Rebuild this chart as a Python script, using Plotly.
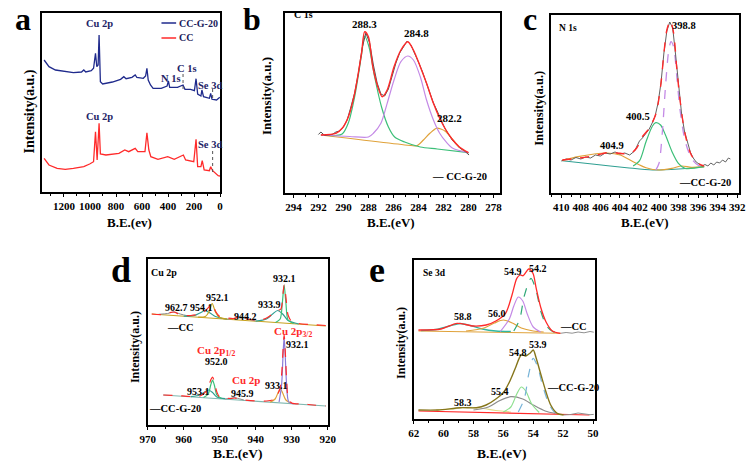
import plotly.graph_objects as go

W, H = 756, 461
FONT = "Liberation Serif"

# ---------------- Panel a : survey spectra ----------------
a_be_ccg = [1352.5, 1315, 1265, 1190, 1127.5, 1065, 1047.5, 1032.5, 990, 972.5, 957.5, 947.5, 937.5, 930, 920,
            902.5, 827.5, 765, 740, 722.5, 677.5, 652.5, 640, 590, 572.5, 562.5, 552.5, 535, 515, 452.5, 407.5,
            397.5, 387.5, 327.5, 295, 285, 270, 227.5, 197.5, 185, 172.5, 147.5, 140, 127.5, 82.5, 72.5, 62.5,
            27.5, 2.5]
a_int_ccg = [132, 125.3, 122, 120.3, 119.3, 120, 122, 120, 121.3, 123.7, 138.7, 125.3, 127, 157, 110.3,
             108, 110, 112.7, 115.3, 113.3, 114.7, 117, 114.7, 113.7, 116, 123.7, 112, 107, 103.7, 103.7, 106,
             111, 104.7, 104.7, 106, 107, 102.7, 102.7, 101.3, 113.3, 98, 96, 102, 95.3, 93.7, 98.7, 92.7,
             92, 94.7]
a_be_cc = [1352.5, 1315, 1252.5, 1190, 1127.5, 1047.5, 1002.5, 972.5, 957.5, 945, 930, 920, 877.5, 777.5,
           732.5, 702.5, 652.5, 632.5, 577.5, 562.5, 547.5, 532.5, 477.5, 402.5, 352.5, 295, 282.5, 265,
           202.5, 185, 172.5, 147.5, 137.5, 122.5, 82.5, 72.5, 57.5, 15, 0]
a_int_cc = [33.7, 27, 23.7, 22.7, 23.7, 25.3, 28, 30.3, 60.3, 32, 68.7, 38, 37, 38.7, 42, 40.3, 43.7, 40.3,
            40.3, 59.3, 42, 35.3, 32.7, 35.3, 32.7, 36, 37, 32, 30.3, 52.7, 25.3, 25.3, 31.3, 22, 21.3, 25.3,
            21.3, 16.3, 16]

# ---------------- Panel b : C 1s ----------------
b_fit_be = [291.8, 290.6, 290.1, 289.6, 289.1, 288.55, 288.3, 288.0, 287.65, 287.25, 286.9, 286.5, 285.95,
            285.4, 284.85, 284.4, 283.85, 283.35, 282.8, 282.3, 281.8, 281.25, 280.75, 280.0]
b_fit = [58, 59.7, 64.7, 76.3, 99.7, 139.7, 161.3, 156.3, 126.3, 106.3, 96.3, 103, 126.3, 143, 151.3, 143,
         126.3, 109.7, 89.7, 74.7, 63, 53, 46.3, 40.3]
b_data_be = [292.0, 291.8, 291.5, 291.2, 290.9, 290.6, 290.3, 290.0, 289.7, 289.4, 289.1, 288.8, 288.5, 288.2,
             287.9, 287.6, 287.3, 287.0, 286.7, 286.4, 286.1, 285.8, 285.5, 285.2, 284.9, 284.6, 284.3, 284.0,
             283.7, 283.4, 283.1, 282.8, 282.5, 282.2, 281.9, 281.6, 281.3, 281.0, 280.7, 280.4, 280.1, 279.95]
b_data = [58.5, 61, 57.5, 58, 58.5, 61, 62, 66, 73, 86, 100, 120, 145, 160, 150, 128, 110, 99, 97, 104, 118,
          130, 140, 146, 152, 148, 140, 131, 122, 111, 100, 90, 82, 74, 65, 59, 53, 49, 45, 43, 40, 38]
b_green_be = [291.8, 290.6, 290.1, 289.6, 289.1, 288.55, 288.3, 287.95, 287.5, 286.95, 286.4, 285.9, 285.1,
              283.85, 282.5, 280.0]
b_green = [58, 57.5, 59, 70.3, 96.3, 138, 157, 146, 116, 86, 66, 56, 51, 46, 44, 40.3]
b_violet_be = [291.8, 289.5, 288.0, 287.6, 287.0, 286.5, 285.95, 285.4, 284.85, 284.4, 283.85, 283.35, 282.8,
               282.3, 281.8, 281.25, 280.0]
b_violet = [58, 56.5, 56, 59.7, 69.7, 89.7, 113, 131.3, 137, 133, 116.3, 93, 73, 59.7, 51.3, 44.7, 40.3]
b_orange_be = [291.8, 284.6, 284.13, 283.6, 283.08, 282.57, 282.2, 281.8, 281.4, 281.0, 280.48, 280.0]
b_orange = [58, 47.5, 47.2, 53, 59.7, 64.7, 64, 61.3, 55.7, 49.7, 43, 40]

# ---------------- Panel c : N 1s ----------------
c_fit_be = [409.9, 408.3, 406.6, 405.3, 404.0, 403.0, 402.3, 401.7, 401.0, 400.3, 399.8, 399.5, 399.2, 398.85,
            398.5, 398.2, 397.85, 397.35, 396.7, 396.0, 395.4]
c_fit = [33, 34.7, 37.3, 40.3, 39.7, 39, 44.7, 56.3, 64.7, 79.7, 109.7, 139.7, 163, 172.3, 159.7, 126.3, 93,
         59.7, 38, 29.7, 27]
c_data_be = [410.0, 409.5, 409.0, 408.5, 408.0, 407.5, 407.0, 406.5, 406.0, 405.5, 405.0, 404.5, 404.0, 403.5,
             403.0, 402.5, 402.2, 402.0, 401.7, 401.4, 401.0, 400.7, 400.4, 400.1, 399.8, 399.5, 399.2, 398.9,
             398.6, 398.3, 398.0, 397.7, 397.4, 397.1, 396.8, 396.5, 396.2, 395.9, 395.6, 395.3, 395.0, 394.7,
             394.4, 394.1, 393.8, 393.5, 393.2, 392.9, 392.7]
c_data = [32, 34, 33, 35.5, 34, 36, 35, 38, 37, 40, 39, 41, 39, 40, 38, 42, 48, 52, 55, 59, 64, 70, 77, 90,
          110, 140, 162, 171, 165, 138, 108, 80, 62, 50, 41, 35, 31, 29, 27, 28.5, 27, 30, 28, 31, 30, 33, 31,
          35, 34]
c_base_be = [409.9, 406.6, 403.3, 400.67, 398.0, 395.4]
c_base = [32.3, 28.7, 25.3, 23, 24, 26.3]
c_orange_be = [409.94, 408.28, 406.63, 405.3, 403.97, 402.65, 401.33, 400.0, 398.67, 397.68, 396.69, 395.37]
c_orange = [32.3, 36.3, 39, 40, 38, 31.3, 25.3, 23, 24.7, 27, 25.7, 26.3]
c_green_be = [402.65, 401.99, 401.33, 400.67, 400.33, 399.84, 399.34, 398.67, 398.02, 397.35, 395.37]
c_green = [27, 32.3, 51.3, 67, 70.3, 68, 58, 41.3, 29.7, 24.7, 26.3]
c_violet_be = [400.33, 400.0, 399.67, 399.34, 399.0, 398.77, 398.51, 398.18, 397.85, 397.35, 396.69, 396.03,
               395.37]
c_violet = [23, 29.7, 59.7, 106.3, 143, 151.3, 146.3, 116.3, 83, 53, 34.7, 28, 26.3]

# ---------------- Panel d : Cu 2p ----------------
d_cc_fit_be = [968.9, 966, 962.7, 961, 958, 955.5, 954.1, 953, 952.1, 951.2, 950, 948, 946, 944.2, 942.5, 940,
               938, 936.5, 935, 933.9, 933, 932.5, 932.1, 931.6, 931, 930, 928, 925, 920.5]
d_cc_fit = [111, 110.5, 113, 110, 109.5, 111, 114, 118, 121.5, 114, 108.5, 107, 106.5, 109, 106, 105, 105.5,
            108, 112, 114.5, 116, 128, 140, 128, 110, 103.5, 101.5, 100.5, 99.5]
d_cc_base_be = [968.9, 920.5]
d_cc_base = [111, 99]
d_cc_t954_be = [960, 957, 955.5, 954.1, 952.7, 951.2, 948]
d_cc_t954 = [108.8, 109.5, 112, 114.3, 112, 108.5, 105.8]
d_cc_g952_be = [956, 954, 953, 952.1, 951.2, 950.2, 948]
d_cc_g952 = [107.8, 108.5, 113, 121.5, 113, 108, 105.8]
d_cc_s963_be = [967, 964.5, 962.7, 961, 958.5]
d_cc_s963 = [110.7, 111.5, 113, 111, 108.8]
d_cc_s944_be = [948, 945.5, 944.2, 942.8, 940]
d_cc_s944 = [105.8, 107, 108.5, 106.5, 104]
d_cc_t934_be = [940, 937, 935.3, 933.9, 932.5, 931, 928]
d_cc_t934 = [103.8, 106, 111, 114.5, 111, 104.5, 101]
d_cc_g932_be = [934.5, 933.2, 932.6, 932.1, 931.6, 931, 929.5]
d_cc_g932 = [102.5, 106, 122, 140, 122, 105, 101.5]

d_g20_fit_be = [965.7, 962, 958, 955.5, 954, 953, 952.5, 952.0, 951.4, 950.8, 950, 947, 945.9, 944, 940, 937,
                935, 934, 933.3, 932.8, 932.4, 932.1, 931.8, 931.4, 931, 930, 927, 924, 920.5]
d_g20_fit = [30, 29.5, 28.5, 29, 33, 40, 45, 48, 42, 33, 28, 26.5, 27, 25.5, 24, 24, 25.5, 30, 36, 50, 75, 90,
             75, 45, 28, 22, 21, 20, 19]
d_g20_base_be = [965.7, 920.5]
d_g20_base = [30, 19]
d_g20_t953_be = [958, 955.5, 954.2, 953.1, 952, 950.8, 948.5]
d_g20_t953 = [28.3, 30, 33, 35, 32.5, 28, 26.3]
d_g20_g952_be = [954.5, 953.2, 952.5, 952.0, 951.5, 950.8, 949.5]
d_g20_g952 = [27.5, 31, 40, 45, 40, 30, 26.5]
d_g20_o933_be = [936, 934.6, 933.7, 933.1, 932.5, 931.6, 930]
d_g20_o933 = [22.8, 26, 33, 36, 32, 25, 21.5]
d_g20_v932_be = [933.5, 932.8, 932.4, 932.1, 931.8, 931.4, 930.8, 929.5]
d_g20_v932 = [23, 40, 70, 88, 70, 40, 23, 21.2]
d_g20_s946_be = [948.5, 946.8, 945.9, 945, 943.3]
d_g20_s946 = [26, 26.8, 27.3, 26.6, 25]

# ---------------- Panel e : Se 3d ----------------
e_cc_fit_be = [61.68, 60.17, 59.09, 58.0, 57.15, 56.5, 55.85, 55.42, 55.1, 54.88, 54.67, 54.3, 54.02, 53.8,
               53.48, 53.15, 52.72, 52.18]
e_cc_fit = [89, 90, 95.7, 93, 94, 98, 105.7, 124, 140.7, 144, 143.3, 150, 145.7, 130.7, 110.7, 97.3, 88, 85.7]
e_cc_tail_be = [52.18, 51.8, 51.4, 51.0, 50.6, 50.2, 49.95]
e_cc_tail = [85.7, 86.5, 85.8, 87, 86.2, 87.5, 86.8]
e_cc_base_be = [61.68, 52.18]
e_cc_base = [88, 85.7]
e_cc_t588_be = [61.5, 60.5, 59.6, 58.9, 58.2, 57.4, 56.5, 55.5]
e_cc_t588 = [88.5, 89.5, 93, 95.5, 93.5, 90, 88, 87.5]
e_cc_o560_be = [58.5, 57.3, 56.6, 56.0, 55.4, 54.8, 54.0, 53.3]
e_cc_o560 = [88, 91, 96, 99, 96, 91, 88, 87]
e_cc_v549_be = [56.2, 55.6, 55.3, 55.0, 54.7, 54.4, 54.0, 53.5]
e_cc_v549 = [87.5, 100, 113, 122, 118, 105, 92, 87]
e_cc_g542_be = [55.3, 54.9, 54.6, 54.15, 53.8, 53.5, 53.1, 52.7, 52.2]
e_cc_g542 = [88, 100, 123, 140.7, 128, 108, 93, 87.5, 86]

e_g20_fit_be = [61.68, 60.38, 58.87, 57.8, 57.15, 56.5, 55.96, 55.53, 55.2, 54.8, 54.5, 54.2, 54.0, 53.8,
                53.48, 53.15, 52.83, 52.4, 51.97]
e_g20_fit = [9, 9, 11.3, 11.3, 14, 20, 27.3, 39, 50.7, 64, 63, 66, 69, 60.7, 44, 27.3, 14, 5.7, 4]
e_g20_tail_be = [51.97, 51.5, 51.0, 50.6, 50.2, 49.95]
e_g20_tail = [4, 4.5, 6, 5, 4.3, 4.6]
e_g20_base_be = [61.68, 50.24]
e_g20_base = [8, 4]
e_g20_y583_be = [60.5, 59.5, 58.5, 57.6, 56.5, 55.5]
e_g20_y583 = [9, 10, 11.5, 11, 8.5, 7]
e_g20_s554_be = [58.0, 57.0, 56.3, 55.5, 54.7, 54.0, 53.2, 52.5]
e_g20_s554 = [9, 12, 18, 22.3, 20, 14, 8, 5.5]
e_g20_g548_be = [56.0, 55.5, 55.1, 54.8, 54.5, 54.1, 53.6]
e_g20_g548 = [7, 12, 25, 32, 28, 15, 6.5]
e_g20_b539_be = [55.0, 54.6, 54.3, 54.0, 53.7, 53.4, 53.0, 52.6, 52.2]
e_g20_b539 = [7, 20, 45, 60.7, 52, 35, 17, 7, 5]

# ---------------- layout helpers ----------------
def fx(px):
    return px / W


def fy(py):
    return 1 - py / H


# frames in pixels: (left, right, top, bottom)
frames = {
    "a": (35, 217, 13, 192),
    "b": (283, 503, 13, 193),
    "c": (556, 748, 15, 193),
    "d": (143, 327, 259, 425),
    "e": (415, 600, 260, 419),
}
axis_id = {"a": "", "b": "2", "c": "3", "d": "4", "e": "5"}

RED = "#ff2a2a"
NAVY = "#1f2a8c"
GRAY = "#505050"
GREEN = "#3cbf78"
VIOLET = "#c48ae6"
ORANGE = "#e0a23a"
TEAL = "#2f9f92"
GOLD = "#c8a21e"
OLIVE = "#86761c"

fig = go.Figure()


def add(panel, xs, ys, color, width=1.2, dash="solid", shape="spline"):
    k = axis_id[panel]
    line = dict(color=color, width=width, dash=dash, shape=shape)
    if shape == "spline":
        line["smoothing"] = 0.8
    fig.add_trace(go.Scatter(
        x=xs, y=ys, mode="lines", xaxis="x" + k, yaxis="y" + k,
        line=line, showlegend=False, hoverinfo="skip"))


# panel a
add("a", a_be_cc, a_int_cc, RED, 1.3, shape="linear")
add("a", a_be_ccg, a_int_ccg, NAVY, 1.3, shape="linear")

# panel b
add("b", b_orange_be, b_orange, ORANGE, 1.2)
add("b", b_green_be, b_green, GREEN, 1.2)
add("b", b_violet_be, b_violet, VIOLET, 1.2)
add("b", b_data_be, b_data, GRAY, 1.0, shape="linear")
add("b", b_fit_be, b_fit, RED, 1.4)

# panel c
add("c", c_base_be, c_base, TEAL, 1.1)
add("c", c_orange_be, c_orange, ORANGE, 1.2)
add("c", c_green_be, c_green, GREEN, 1.2)
add("c", c_violet_be, c_violet, VIOLET, 1.3, dash="dash")
add("c", c_data_be, c_data, GRAY, 0.9, shape="linear")
add("c", c_fit_be, c_fit, RED, 1.4, dash="dash")

# panel d
add("d", d_cc_base_be, d_cc_base, GOLD, 1.1, shape="linear")
add("d", d_cc_s963_be, d_cc_s963, "#8a8a8a", 1.0)
add("d", d_cc_s944_be, d_cc_s944, "#8a8a8a", 1.0)
add("d", d_cc_t954_be, d_cc_t954, TEAL, 1.2)
add("d", d_cc_g952_be, d_cc_g952, GOLD, 1.2)
add("d", d_cc_t934_be, d_cc_t934, TEAL, 1.2)
add("d", d_cc_g932_be, d_cc_g932, GREEN, 1.2)
add("d", d_cc_fit_be, d_cc_fit, RED, 1.2, dash="dash")

add("d", d_g20_base_be, d_g20_base, "#7fb8b0", 1.1, shape="linear")
add("d", d_g20_s946_be, d_g20_s946, "#8a8a8a", 1.0)
add("d", d_g20_t953_be, d_g20_t953, TEAL, 1.2)
add("d", d_g20_g952_be, d_g20_g952, GREEN, 1.2)
add("d", d_g20_o933_be, d_g20_o933, ORANGE, 1.2)
add("d", d_g20_v932_be, d_g20_v932, "#8a7ad8", 1.2)
add("d", d_g20_fit_be, d_g20_fit, RED, 1.2, dash="dash")

# panel e
add("e", e_cc_base_be, e_cc_base, ORANGE, 1.1, shape="linear")
add("e", e_cc_t588_be, e_cc_t588, "#30b8a0", 1.3)
add("e", e_cc_o560_be, e_cc_o560, ORANGE, 1.2)
add("e", e_cc_v549_be, e_cc_v549, VIOLET, 1.2)
add("e", e_cc_g542_be, e_cc_g542, "#30a878", 1.2, dash="dash")
add("e", e_cc_tail_be, e_cc_tail, "#909090", 1.0, shape="linear")
add("e", e_cc_fit_be, e_cc_fit, RED, 1.3)

add("e", e_g20_y583_be, e_g20_y583, "#e2dc8a", 1.2)
add("e", e_g20_s554_be, e_g20_s554, "#8c8c8c", 1.2)
add("e", e_g20_g548_be, e_g20_g548, "#8ee08e", 1.2)
add("e", e_g20_b539_be, e_g20_b539, "#78b4d8", 1.2, dash="dash")
add("e", e_g20_base_be, e_g20_base, RED, 1.2, shape="linear")
add("e", e_g20_tail_be, e_g20_tail, "#909090", 1.0, shape="linear")
add("e", e_g20_fit_be, e_g20_fit, OLIVE, 1.4)

# axes
xspec = {
    "a": dict(range=[1367, 0], tick0=0, dtick=200, minor_dtick=100),
    "b": dict(range=[294.7, 277.5], tick0=278, dtick=2, minor_dtick=1),
    "c": dict(range=[411, 391.8], tick0=392, dtick=2, minor_dtick=1),
    "d": dict(range=[970, 920], tick0=920, dtick=10, minor_dtick=5),
    "e": dict(range=[62, 49.9], tick0=50, dtick=2, minor_dtick=1),
}
yspec = {"a": [0, 179], "b": [0, 180], "c": [0, 178], "d": [0, 166], "e": [0, 159]}

layout_axes = {}
for p, (l, r, t, b) in frames.items():
    k = axis_id[p]
    xs = xspec[p]
    layout_axes["xaxis" + k] = dict(
        domain=[fx(l), fx(r)], range=xs["range"], anchor="y" + k,
        tickmode="linear", tick0=xs["tick0"], dtick=xs["dtick"],
        ticks="outside", ticklen=3, tickwidth=1.3, tickcolor="black",
        minor=dict(ticks="outside", ticklen=2, tickwidth=1, tickcolor="black", dtick=xs["minor_dtick"]),
        showline=True, linecolor="black", linewidth=1.6, mirror=True,
        showgrid=False, zeroline=False,
        tickfont=dict(family=FONT, size=11, color="black", weight="bold"),
    )
    layout_axes["yaxis" + k] = dict(
        domain=[fy(b), fy(t)], range=yspec[p], anchor="x" + k,
        showticklabels=False, ticks="", showline=True, linecolor="black", linewidth=1.6,
        mirror=True, showgrid=False, zeroline=False,
    )

annotations = []


def txt(text, x, y, size=10.5, color="black", angle=0, xanchor="center", yanchor="middle"):
    annotations.append(dict(
        text="<b>%s</b>" % text, x=fx(x), y=fy(y), xref="paper", yref="paper",
        showarrow=False, xanchor=xanchor, yanchor=yanchor, textangle=angle, borderpad=0,
        font=dict(family=FONT, size=size, color=color)))


# panel letters (top anchored)
txt("a", 15, 0, size=32, yanchor="top")
txt("b", 250, 0, size=32, yanchor="top")
txt("c", 534, 0, size=32, yanchor="top")
txt("d", 116, 249, size=36, yanchor="top")
txt("e", 377, 249, size=36, yanchor="top")

# axis titles
txt("Intensity(a.u.)", 22, 112, size=14, angle=-90)
txt("Intensity(a.u.)", 265, 96, size=13, angle=-90)
txt("Intensity(a.u.)", 543, 108, size=12.5, angle=-90)
txt("Intensity(a.u.)", 130, 347, size=12, angle=-90)
txt("Intensity(a.u.)", 402, 343, size=12, angle=-90)
txt("B.E.(ev)", 124, 222, size=13)
txt("B.E.(eV)", 392, 222, size=13)
txt("B.E.(eV)", 652, 222, size=13)
txt("B.E.(eV)", 235, 453, size=13.5)
txt("B.E.(eV)", 505, 453, size=13.5)

# panel a labels
LBL = "#232366"
txt("Cu 2p", 94, 23, size=10.5, color=LBL)
txt("N 1s", 167, 78, size=10.5, color=LBL)
txt("C 1s", 183, 68, size=10.5, color=LBL)
txt("Se 3d", 207, 85, size=10.5, color=LBL)
txt("Cu 2p", 94, 117, size=10.5, color=LBL)
txt("Se 3d", 207, 145, size=10.5, color=LBL)
txt("CC-G-20", 174, 23, size=10, color="#1a1a5a", xanchor="left")
txt("CC", 174, 38, size=10, color="#1a1a5a", xanchor="left")

# panel b labels
txt("C 1s", 302, 15, size=10)
txt("288.3", 365, 24, size=11)
txt("284.8", 418, 33, size=11)
txt("282.2", 452, 118, size=11)
txt("— CC-G-20", 462, 176, size=10.5)

# panel c labels
txt("N 1s", 573, 28, size=9.5)
txt("398.8", 692, 25, size=10.5)
txt("400.5", 645, 117, size=10.5)
txt("404.9", 618, 146, size=10.5)
txt("—CC-G-20", 713, 182, size=10.5)

# panel d labels
txt("Cu 2p", 160, 272, size=10)
txt("962.7", 172, 307, size=10)
txt("954.1", 198, 307, size=10)
txt("952.1", 214, 297, size=10)
txt("944.2", 243, 316, size=10)
txt("933.9", 268, 304, size=10)
txt("932.1", 283, 278, size=10)
txt("—CC", 176, 327, size=10.5)
txt("Cu 2p<sub>3/2</sub>", 292, 332, size=11, color=RED)
txt("932.1", 296, 344, size=10)
txt("Cu 2p<sub>1/2</sub>", 213, 351, size=11, color=RED)
txt("952.0", 213, 361, size=10)
txt("Cu 2p", 243, 380, size=11, color=RED)
txt("945.9", 240, 393, size=10)
txt("953.1", 195, 391, size=10)
txt("933.1", 275, 385, size=10)
txt("—CC-G-20", 171, 408, size=10.5)

# panel e labels
txt("Se 3d", 436, 273, size=9.5)
txt("58.8", 465, 316, size=10)
txt("56.0", 500, 313, size=10)
txt("54.9", 517, 271, size=10)
txt("54.2", 542, 268, size=10)
txt("—CC", 578, 326, size=10.5)
txt("58.3", 465, 402, size=10)
txt("55.4", 503, 391, size=10)
txt("54.8", 522, 352, size=10)
txt("53.9", 542, 344, size=10)
txt("—CC-G-20", 578, 387, size=10.5)

# dashed marker lines in panel a and legend samples
shapes = [
    dict(type="line", xref="x", yref="y", x0=285, x1=285, y0=103, y1=119,
         line=dict(color="#555555", width=1, dash="dot")),
    dict(type="line", xref="x", yref="y", x0=57.5, x1=57.5, y0=94, y1=106,
         line=dict(color="#555555", width=1, dash="dot")),
    dict(type="line", xref="x", yref="y", x0=57.5, x1=57.5, y0=20, y1=42,
         line=dict(color="#555555", width=1, dash="dot")),
    dict(type="line", xref="paper", yref="paper", x0=fx(157), x1=fx(172), y0=fy(23), y1=fy(23),
         line=dict(color=NAVY, width=1.5)),
    dict(type="line", xref="paper", yref="paper", x0=fx(157), x1=fx(172), y0=fy(38), y1=fy(38),
         line=dict(color=RED, width=1.5)),
]

fig.update_layout(
    width=W, height=H, margin=dict(l=0, r=0, t=0, b=0),
    paper_bgcolor="white", plot_bgcolor="white",
    annotations=annotations, shapes=shapes, showlegend=False,
    font=dict(family=FONT, color="black"),
    **layout_axes,
)

fig.write_html(
    "out.html",
    config={"displayModeBar": False},
    post_script="document.body.style.margin='0';document.body.style.padding='0';document.body.style.overflow='hidden';",
)
